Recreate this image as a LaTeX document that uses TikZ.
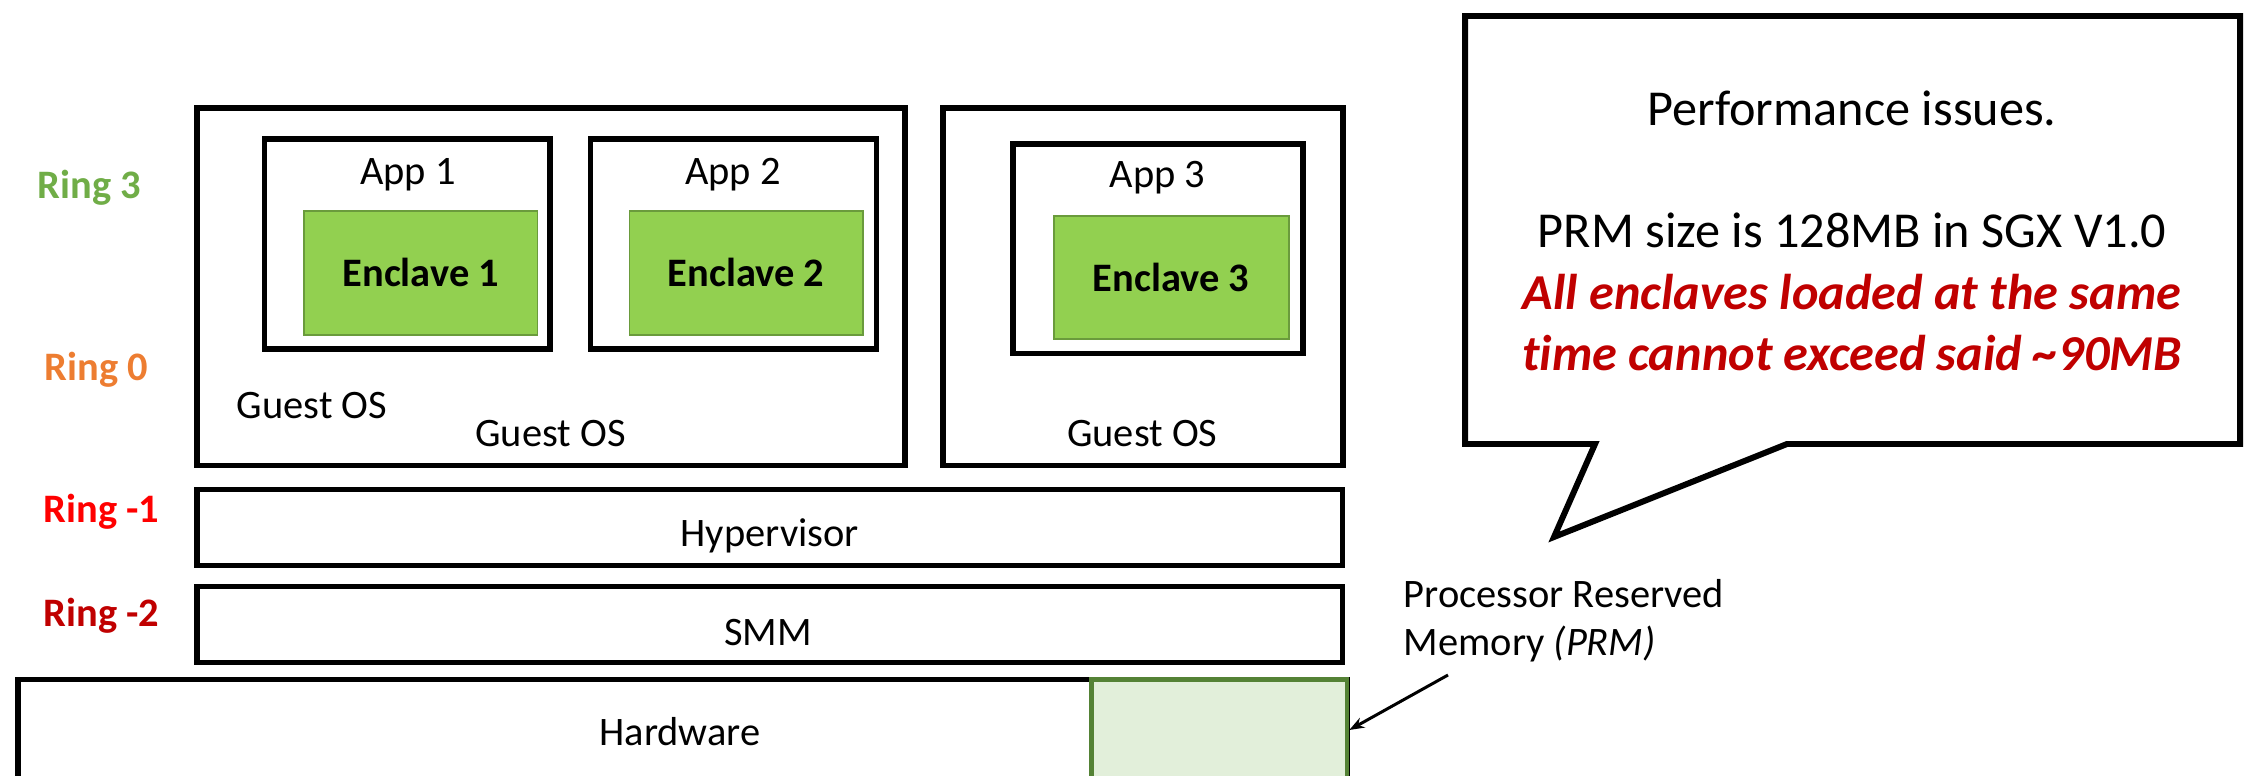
\documentclass[tikz,border=0pt]{standalone}
\usepackage{fontspec}
\setmainfont{Carlito}[Ligatures=NoCommon]
\usetikzlibrary{fit,arrows.meta}

\definecolor{enclgreen}{HTML}{92D050}
\definecolor{enclborder}{HTML}{6A9B3C}
\definecolor{prmfill}{HTML}{E2EFDA}
\definecolor{prmborder}{HTML}{548235}
\definecolor{ringthree}{HTML}{70AD47}
\definecolor{ringzero}{HTML}{ED7D31}
\definecolor{ringminusone}{HTML}{FF0000}
\definecolor{darkred}{HTML}{C00000}

\begin{document}
\begin{tikzpicture}[x=0.01cm,y=-0.01cm,
  every node/.style={inner sep=0pt, font=\fontsize{11.5}{14}\selectfont},
  layer/.style={draw=black, line width=1.45pt, fill=white, inner sep=0pt},
  enclave/.style={draw=enclborder, line width=0.5pt, fill=enclgreen, inner sep=0pt},
  prmbox/.style={draw=prmborder, line width=1.3pt, fill=prmfill, inner sep=0pt},
  lbl/.style={anchor=base},
  boldlbl/.style={anchor=base, font=\fontsize{11.5}{14}\selectfont\bfseries},
  ringlbl/.style={anchor=base west, font=\fontsize{11.5}{14}\selectfont\bfseries},
  notelbl/.style={anchor=base west},
  bubbletext/.style={anchor=base, font=\fontsize{14.3}{17}\selectfont},
  warntext/.style={anchor=base, text=darkred, font=\fontsize{14.3}{17}\selectfont\bfseries\itshape},
  pointer/.style={line width=0.85pt, -{Stealth[length=0.15cm, width=0.11cm]}},
  bubble/.style={draw=black, line width=1.7pt, fill=white, line join=miter, miter limit=10},
]
\useasboundingbox (0,0) rectangle (2252,776);
\clip (0,0) rectangle (2252,776);

% guest operating systems
\node[layer, fit={(197,108) (905,465.5)}] (guest1) {};
\node[layer, fit={(943,108) (1343,465.5)}] (guest2) {};

% applications
\node[layer, fit={(264.5,139) (550,349)}] (app1) {};
\node[layer, fit={(590.5,139) (876.5,349)}] (app2) {};
\node[layer, fit={(1013,144) (1303,353.7)}] (app3) {};

% enclaves
\node[enclave, fit={(304,211) (537.6,335)}] (encl1) {};
\node[enclave, fit={(629.5,211) (863,335)}] (encl2) {};
\node[enclave, fit={(1054.3,215.7) (1289,339.3)}] (encl3) {};

% privileged layers
\node[layer, fit={(197,489.5) (1342.5,565.5)}] (hyper) {};
\node[layer, fit={(197,586.5) (1342.5,662.5)}] (smm) {};
\node[layer, fit={(18,679.5) (1347,780.5)}] (hw) {};
\node[prmbox, fit={(1091.5,679.5) (1347,780.5)}] (prm) {};

% ring levels
\node[ringlbl, text=ringthree] (ring3) at (37,199) {Ring 3};
\node[ringlbl, text=ringzero] (ring0) at (44,380) {Ring 0};
\node[ringlbl, text=ringminusone] (ringm1) at (43,522) {Ring -1};
\node[ringlbl, text=darkred] (ringm2) at (43,626) {Ring -2};

% box captions
\node[lbl] (app1txt) at (408,185) {App 1};
\node[lbl] (app2txt) at (733,185) {App 2};
\node[lbl] (app3txt) at (1157.5,188) {App 3};
\node[boldlbl] (encl1txt) at (420.8,286.7) {Enclave 1};
\node[boldlbl] (encl2txt) at (746.2,286.7) {Enclave 2};
\node[boldlbl] (encl3txt) at (1171,291.7) {Enclave 3};
\node[lbl] (os1a) at (312,418.3) {Guest OS};
\node[lbl] (os1b) at (550.5,446.7) {Guest OS};
\node[lbl] (os2) at (1142.3,446) {Guest OS};
\node[lbl] (hypertxt) at (769.7,546.7) {Hypervisor};
\node[lbl] (smmtxt) at (768,645) {SMM};
\node[lbl] (hwtxt) at (680,745) {Hardware};

% reserved memory note
\node[notelbl] (prmline1) at (1403,607) {Processor Reserved};
\node[notelbl] (prmline2) at (1403,655) {Memory \textit{(PRM)}};
\coordinate (prmtail) at (1448,675);
\draw[pointer] (prmtail) -- (prm.east);

% speech bubble
\path[bubble] (1465,16) -- (2240,16) -- (2240,444) -- (1787,444)
  -- (1554,537) -- (1595,444) -- (1465,444) -- cycle;
\node[bubbletext] (perf) at (1852,126) {Performance issues.};
\node[bubbletext] (prmsize) at (1852,248) {PRM size is 128MB in SGX V1.0};
\node[warntext] (warn1) at (1852,309) {All enclaves loaded at the same};
\node[warntext] (warn2) at (1852,370) {time cannot exceed said \textasciitilde90MB};
\end{tikzpicture}
\end{document}
